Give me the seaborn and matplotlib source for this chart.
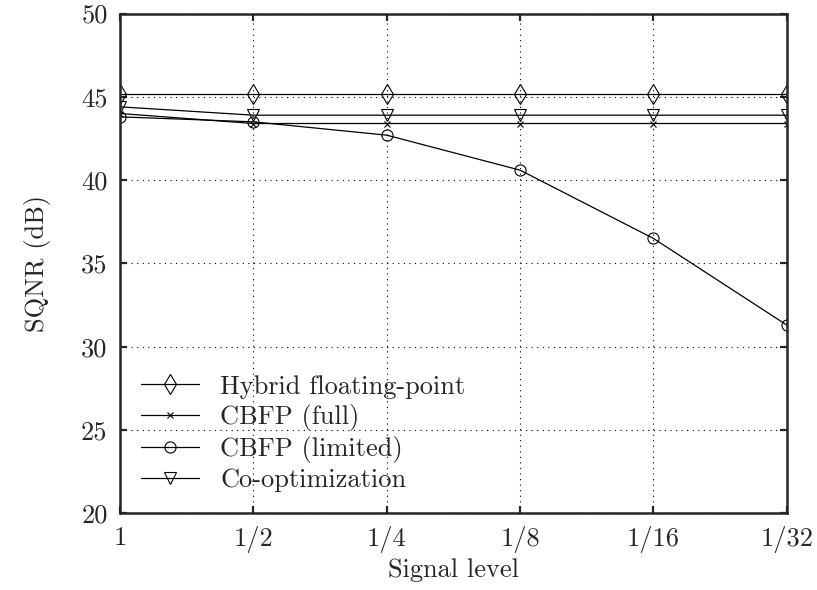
import matplotlib
matplotlib.use("Agg")
import matplotlib.pyplot as plt
import seaborn as sns
import numpy as np
import pandas as pd

# Data
signal_levels = ['1', '1/2', '1/4', '1/8', '1/16', '1/32']
hybrid = [45.2, 45.2, 45.2, 45.2, 45.2, 45.2]
cbfp_full = [44.0, 43.4, 43.4, 43.4, 43.4, 43.4]
cbfp_limited = [43.8, 43.5, 42.7, 40.6, 36.5, 31.3]
co_opt = [44.4, 43.9, 43.9, 43.9, 43.9, 43.9]

series_names = ['Hybrid floating-point', 'CBFP (full)', 'CBFP (limited)', 'Co-optimization']
series_values = [hybrid, cbfp_full, cbfp_limited, co_opt]
markers = ['d', 'x', 'o', 'v']
marker_sizes = [10, 5, 8, 9]

sns.set_style('ticks')
plt.rcParams['font.family'] = ['cmr10', 'DejaVu Serif']
plt.rcParams['mathtext.fontset'] = 'cm'
plt.rcParams['axes.unicode_minus'] = False

fig = plt.figure(figsize=(8.17, 5.9), dpi=100)
ax = fig.add_axes([0.147, 0.130, 0.816, 0.847])

x = np.arange(len(signal_levels))
for name, vals, mk, ms in zip(series_names, series_values, markers, marker_sizes):
    df = pd.DataFrame({'level': x, 'sqnr': vals})
    sns.lineplot(data=df, x='level', y='sqnr', ax=ax, color='black', linewidth=0.9,
                 marker=mk, markersize=ms, markerfacecolor='none',
                 markeredgecolor='black', markeredgewidth=0.8, label=name)

ax.set_xlim(0, len(signal_levels) - 1)
ax.set_ylim(20, 50)
ax.set_xticks(x)
ax.set_xticklabels(signal_levels)
ax.set_yticks(np.arange(20, 51, 5))
ax.tick_params(direction='in', length=5, width=1.6, labelsize=19,
               top=True, right=True, pad=9)
for s in ax.spines.values():
    s.set_linewidth(1.8)
ax.grid(True, color='black', linestyle=(0, (1, 4)), linewidth=0.8)

ax.set_xlabel('Signal level', fontsize=19, labelpad=4)
ax.set_ylabel('SQNR (dB)', fontsize=19, labelpad=22)

leg = ax.legend(loc='lower left', frameon=False, fontsize=19, handlelength=2.2,
                labelspacing=0.2, borderaxespad=0.4, handletextpad=0.8)

plt.savefig('out.png', dpi=100)
plt.close()
